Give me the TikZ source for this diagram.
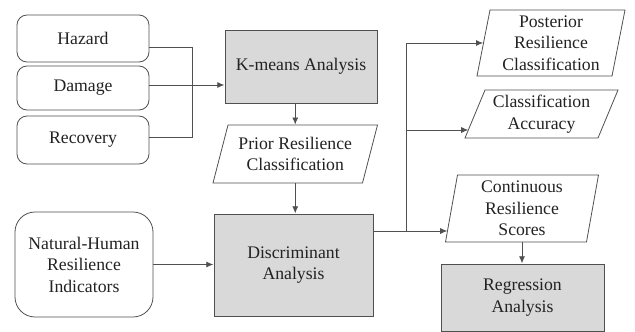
\documentclass[tikz,border=0pt]{standalone}
\usepackage{fontspec}
\setmainfont{LiberationSerif}[Extension=.ttf, UprightFont=*-Regular, BoldFont=*-Bold]
\usetikzlibrary{calc,arrows.meta}
\definecolor{ln}{HTML}{505050}
\definecolor{gbox}{HTML}{D9D9D9}
\definecolor{tx}{HTML}{222222}
\tikzset{
  txt/.style={font=\rmfamily\fontsize{17.7}{21.5}\selectfont, text=tx, align=center, inner sep=0pt},
  bord/.style={draw=ln, line width=0.8pt},
  rbox/.style={txt, bord, rounded corners=10pt},
  gbx/.style={txt, bord, fill=gbox},
  conn/.style={draw=ln, line width=0.8pt},
  arr/.style={conn, -{Latex[length=7pt,width=6pt]}, shorten >=0.3pt},
}
\newcommand\parabox[7]{%
  \node[txt, minimum width=#4pt, minimum height=#5pt] (#1) at (#2,#3) {#7};
  \draw[bord] ($(#1.center)+({-#4/2-#6/2},{#5/2})$) -- ($(#1.center)+({#4/2-#6/2},{#5/2})$)
     -- ($(#1.center)+({#4/2+#6/2},{-#5/2})$) -- ($(#1.center)+({-#4/2+#6/2},{-#5/2})$) -- cycle;
}
\begin{document}
\begin{tikzpicture}[x=1pt,y=-1pt]
\useasboundingbox (0,0) rectangle (635,332);
% left inputs
\node[rbox, minimum width=132pt, minimum height=47pt] (haz) at (83,38.5) {Hazard};
\node[rbox, minimum width=132pt, minimum height=44pt] (dam) at (83,88) {Damage};
\node[rbox, minimum width=132pt, minimum height=48pt] (rec) at (83,140) {Recovery};
\node[rbox, rounded corners=20pt, minimum width=138pt, minimum height=105pt] (nat) at (84,264.5) {Natural-Human\\Resilience\\Indicators};
% gray boxes
\node[gbx, minimum width=152pt, minimum height=73pt] (km) at (301,66.5) {K-means Analysis};
\node[gbx, minimum width=159pt, minimum height=102pt] (disc) at (293.5,265) {Discriminant\\Analysis};
\node[gbx, minimum width=163pt, minimum height=67pt] (reg) at (522.5,297.5) {Regression\\Analysis};
% parallelograms
\parabox{prior}{295.25}{154}{149.5}{58}{15}{Prior Resilience\\Classification}
\parabox{post}{551}{43}{135}{66}{13}{Posterior\\Resilience\\Classification}
\parabox{acc}{541.5}{114}{133}{48}{20}{Classification\\Accuracy}
\parabox{cont}{522}{208.5}{141}{67}{12}{Continuous\\Resilience\\Scores}
% coordinates
\coordinate (jt) at (192,47);
\coordinate (jb) at (192,137);
\coordinate (dmo) at ($(dam.east)+(0,-3)$);
\coordinate (dout) at ($(disc.east)+(0,-34)$);
\coordinate (bx) at (406,231);
\coordinate (bacc) at (406,130);
\coordinate (accin) at (468.5,130);
\coordinate (contin) at (447.5,231);
% connectors
\draw[conn] ($(haz.east)+(0,8.5)$) -- (jt) -- (jb) -- ($(rec.east)+(0,-3)$);
\draw[arr] (dmo) -- (km.west |- dmo);
\draw[arr] (prior.north |- km.south) -- (prior.north);
\draw[arr] (prior.south) -- (prior.south |- disc.north);
\draw[arr] (nat.east) -- (disc.west |- nat.east);
\draw[arr] (dout) -- (contin);
\draw[arr] (bx) |- (post.west);
\draw[arr] (bacc) -- (accin);
\draw[arr] (cont.south) -- (cont.south |- reg.north);
\end{tikzpicture}
\end{document}
